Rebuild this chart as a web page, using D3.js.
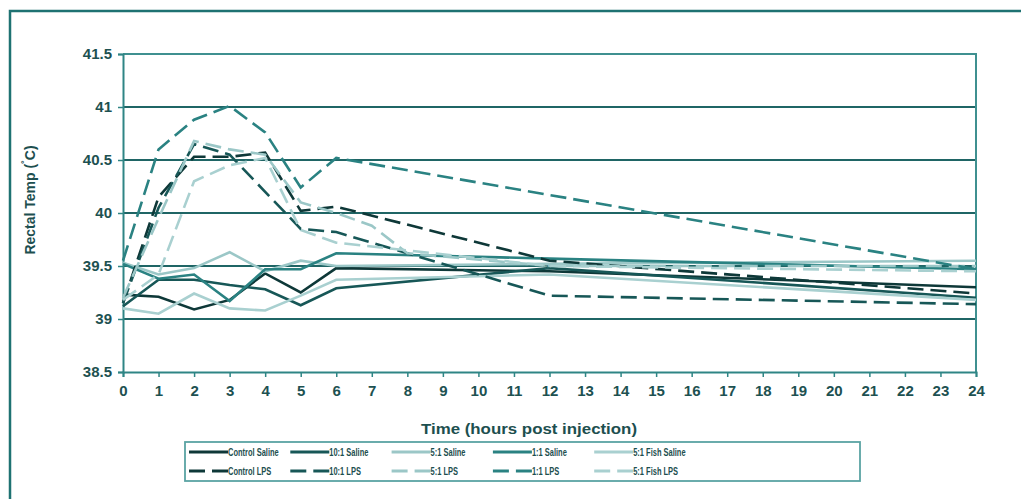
<!DOCTYPE html>
<html><head><meta charset="utf-8">
<script src="https://cdn.jsdelivr.net/npm/d3@7"></script>
<style>
html,body{margin:0;padding:0;background:#fff;}
svg{display:block;}
text{font-family:"Liberation Sans",Arial,sans-serif;font-weight:bold;}
</style></head>
<body>
<svg id="chart" width="1021" height="499"></svg>
<script>
// ---- data ----
const hours = [0, 1, 2, 3, 4, 5, 6, 7, 8, 12, 24];
const xTicks = d3.range(0, 25);
const yTicks = [38.5, 39, 39.5, 40, 40.5, 41, 41.5];
const yTickLabels = ["38.5", "39", "39.5", "40", "40.5", "41", "41.5"];

const seriesNames = ["Control Saline", "10:1 Saline", "5:1 Saline", "1:1 Saline", "5:1 Fish Saline",
                     "Control LPS", "10:1 LPS", "5:1 LPS", "1:1 LPS", "5:1 Fish LPS"];
const controlSaline = [39.23, 39.21, 39.09, 39.18, 39.43, 39.25, 39.48, null, null, 39.45, 39.30];
const tenSaline     = [39.12, 39.37, 39.37, 39.32, 39.28, 39.13, 39.29, null, null, 39.48, 39.20];
const fiveSaline    = [39.53, 39.42, 39.48, 39.63, 39.45, 39.55, 39.50, null, null, 39.52, 39.55];
const oneSaline     = [39.52, 39.38, 39.42, 39.17, 39.47, 39.47, 39.62, null, null, 39.57, 39.47];
const fishSaline    = [39.10, 39.05, 39.24, 39.10, 39.08, 39.22, 39.37, null, null, 39.42, 39.18];
const controlLPS    = [39.15, 40.15, 40.53, 40.53, 40.57, 40.02, 40.06, null, null, 39.55, 39.24];
const tenLPS        = [39.15, 40.05, 40.65, 40.55, 40.20, 39.85, 39.82, null, null, 39.22, 39.14];
const fiveLPS       = [39.20, 39.95, 40.68, 40.60, 40.55, 40.10, 40.00, 39.88, 39.62, 39.50, 39.50];
const oneLPS        = [39.55, 40.60, 40.88, 41.01, 40.76, 40.24, 40.52, null, null, 40.17, 39.47];
const fishLPS       = [39.18, 39.42, 40.30, 40.45, 40.52, 39.84, 39.72, null, null, 39.50, 39.45];

const seriesValues = [controlSaline, tenSaline, fiveSaline, oneSaline, fishSaline,
                      controlLPS, tenLPS, fiveLPS, oneLPS, fishLPS];
const seriesColors = ["#0e3838", "#175757", "#9bc7c7", "#2a8282", "#a9d0d0",
                      "#0e3838", "#175757", "#9bc7c7", "#2a8282", "#a9d0d0"];
const seriesDashed = [false, false, false, false, false, true, true, true, true, true];

// ---- layout ----
const svg = d3.select("#chart");
const L = 123, R = 976, T = 54, B = 372;
const x = d3.scaleLinear().domain([0, 24]).range([L, R]);
const y = d3.scaleLinear().domain([38.5, 41.5]).range([B, T]);

// outer frame (top + left visible)
svg.append("path").attr("d", `M10,520 L10,11 L1040,11`)
  .attr("fill", "none").attr("stroke", "#1e7272").attr("stroke-width", 2.5);

// gridlines
svg.append("g").selectAll("line").data([39, 39.5, 40, 40.5, 41]).join("line")
  .attr("x1", L).attr("x2", R).attr("y1", d => y(d)).attr("y2", d => y(d))
  .attr("stroke", "#1f6565").attr("stroke-width", 2);

// plot border top/right
svg.append("path").attr("d", `M${L},${y(41.5)} L${R},${y(41.5)} L${R},${B}`)
  .attr("fill", "none").attr("stroke", "#3f9090").attr("stroke-width", 2);

// axes
const xAxis = d3.axisBottom(x).tickValues(xTicks).tickSize(5).tickPadding(8).tickFormat(d3.format("d"));
const gx = svg.append("g").attr("transform", `translate(0,${B})`).call(xAxis);
const yAxis = d3.axisLeft(y).tickValues(yTicks).tickSize(5).tickPadding(6)
  .tickFormat((d, i) => yTickLabels[i]);
const gy = svg.append("g").attr("transform", `translate(${L},0)`).call(yAxis);
[gx, gy].forEach(g => {
  g.select(".domain").attr("stroke", "#2f8585").attr("stroke-width", 2);
  g.selectAll(".tick line").attr("stroke", "#2f8585").attr("stroke-width", 1.5);
  g.selectAll(".tick text").attr("fill", "#1d5151").style("font-size", "15px")
    .style("font-family", "'Liberation Sans',Arial,sans-serif").style("font-weight", "bold");
});

// lines
const line = d3.line().x(d => x(d[0])).y(d => y(d[1]));
seriesValues.forEach((vals, i) => {
  const pts = hours.map((h, j) => [h, vals[j]]).filter(p => p[1] != null);
  svg.append("path").datum(pts).attr("d", line)
    .attr("fill", "none").attr("stroke", seriesColors[i]).attr("stroke-width", 2.6)
    .attr("stroke-linejoin", "miter")
    .attr("stroke-dasharray", seriesDashed[i] ? "16,7" : null);
});

// small annotation mark
svg.append("text").attr("x", x(11.85)).attr("y", y(39.47)).attr("fill", "#2a6b6b")
  .style("font-size", "8px").style("font-weight", "normal").text("a");

// axis titles
svg.append("text").attr("x", 529).attr("y", 434).attr("text-anchor", "middle")
  .attr("fill", "#1d4f4f").style("font-size", "15.5px")
  .attr("textLength", 216).attr("lengthAdjust", "spacingAndGlyphs")
  .text("Time (hours post injection)");
const yt = svg.append("text").attr("transform", "translate(35,200) rotate(-90)")
  .attr("text-anchor", "middle").attr("fill", "#1d4f4f").style("font-size", "14px");
yt.append("tspan").text("Rectal Temp (");
yt.append("tspan").attr("dy", -5).style("font-size", "11px").text("˚");
yt.append("tspan").attr("dy", 5).text("C)");

// legend
const lg = svg.append("g");
lg.append("rect").attr("x", 185).attr("y", 442).attr("width", 675).attr("height", 39)
  .attr("fill", "#fff").attr("stroke", "#5aa3a3").attr("stroke-width", 1.8);
seriesNames.forEach((name, i) => {
  const col = i % 5, row = Math.floor(i / 5);
  const lx = 189 + col * 101.3, ly = 452 + row * 19;
  if (seriesDashed[i]) {
    lg.append("line").attr("x1", lx).attr("x2", lx + 16).attr("y1", ly).attr("y2", ly)
      .attr("stroke", seriesColors[i]).attr("stroke-width", 3);
    lg.append("line").attr("x1", lx + 23).attr("x2", lx + 39).attr("y1", ly).attr("y2", ly)
      .attr("stroke", seriesColors[i]).attr("stroke-width", 3);
  } else {
    lg.append("line").attr("x1", lx).attr("x2", lx + 39).attr("y1", ly).attr("y2", ly)
      .attr("stroke", seriesColors[i]).attr("stroke-width", 3);
  }
  const t = lg.append("text").attr("x", lx + 39).attr("y", ly + 4).attr("fill", "#1d4f4f")
    .style("font-size", "11px").text(name);
  const w = t.node().getComputedTextLength();
  t.attr("textLength", w * 0.68).attr("lengthAdjust", "spacingAndGlyphs");
});
</script>
</body></html>
